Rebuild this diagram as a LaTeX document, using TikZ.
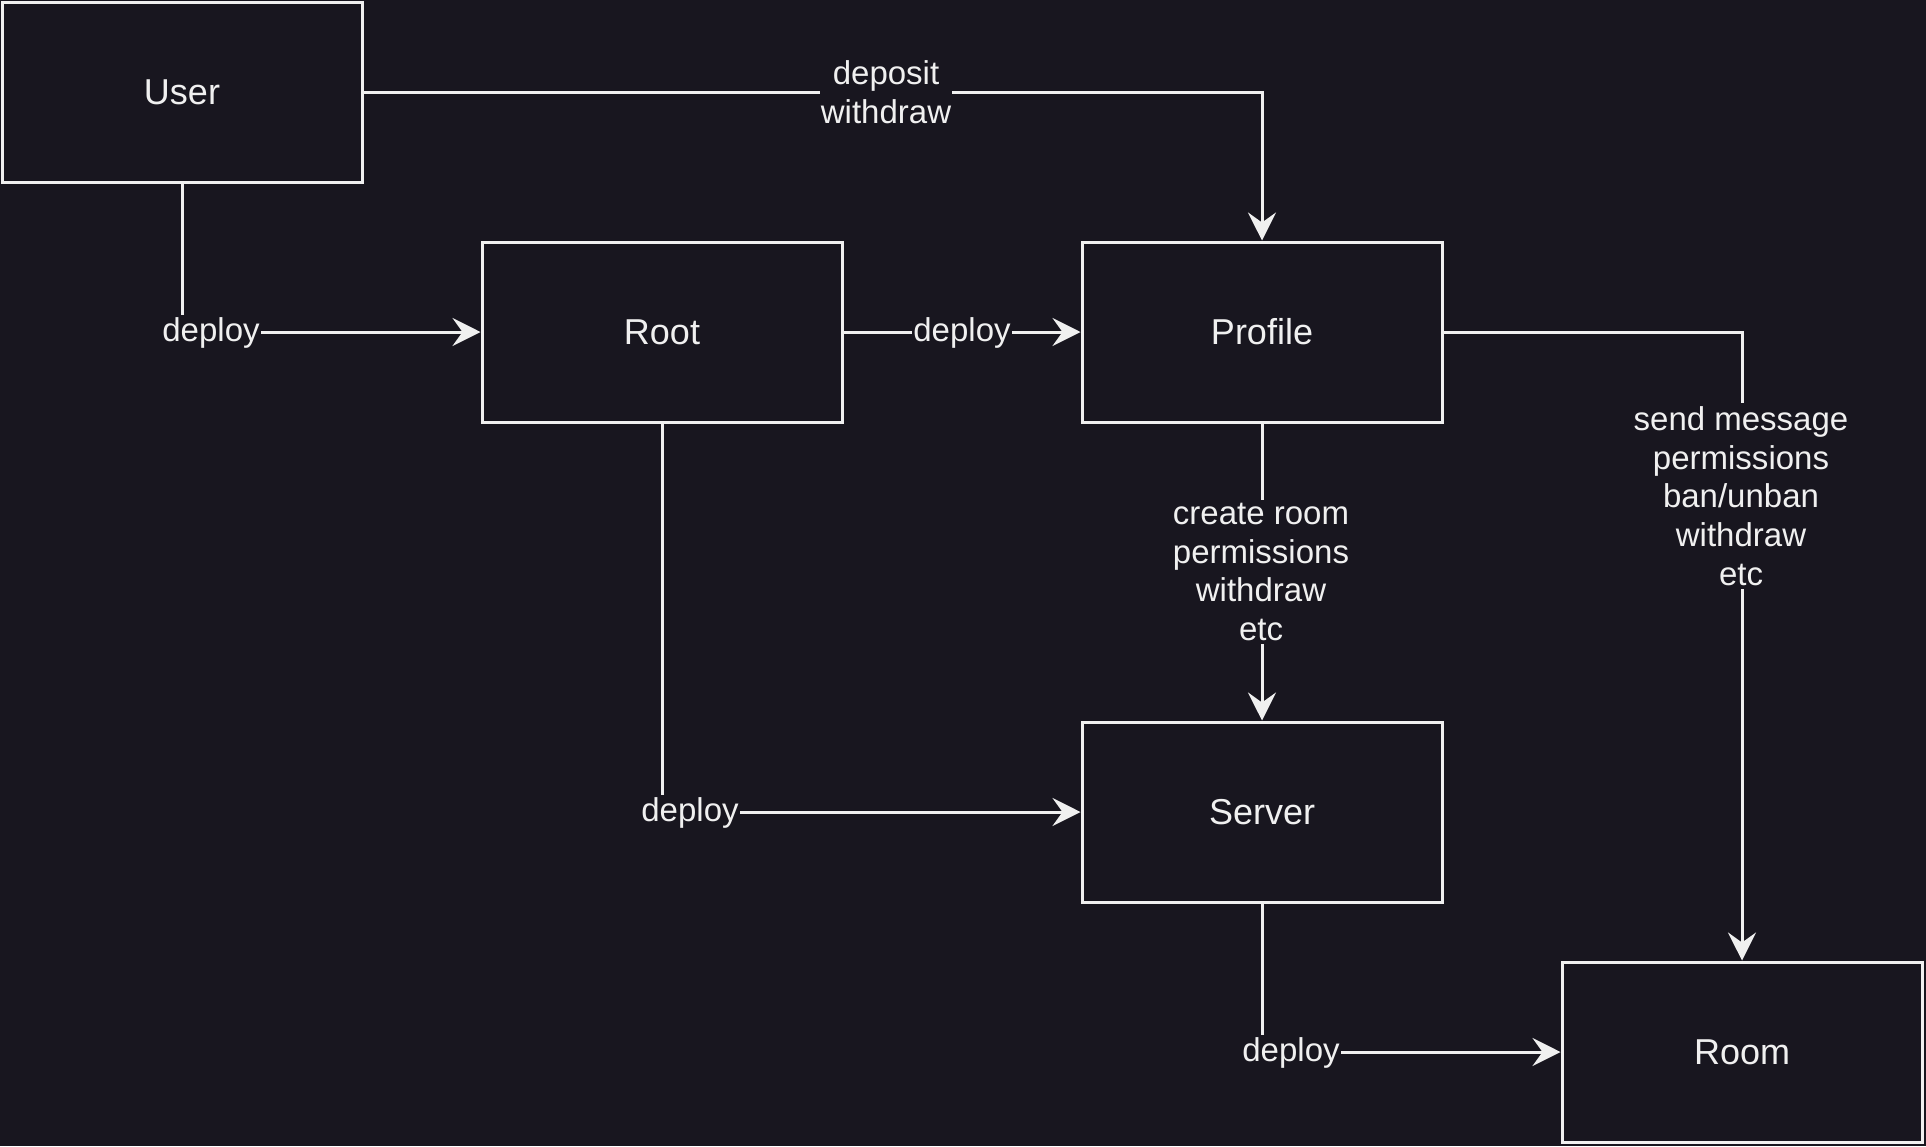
\documentclass[tikz,border=0pt]{standalone}
\usepackage{fontspec}
\setmainfont{Liberation Sans}
\usetikzlibrary{arrows.meta}
\definecolor{bg}{HTML}{18161F}
\definecolor{fg}{HTML}{F0F0F0}
\begin{document}
\begin{tikzpicture}[x=0.5pt,y=-0.5pt,
  box/.style={draw=fg, line width=1.5pt, fill=bg, text=fg, minimum width=180pt, minimum height=90pt, inner sep=0pt, font=\fontsize{18}{21.6}\selectfont},
  arr/.style={draw=fg, line width=1.5pt, -{Stealth[length=14pt, width=14pt, inset=5pt]}},
  lbl/.style={fill=bg, text=fg, inner xsep=0.6pt, inner ysep=1.5pt, align=center, font=\fontsize{16.5}{19.4}\selectfont}]
\fill[bg] (0,0) rectangle (1926,1146);
\useasboundingbox (0,0) rectangle (1926,1146);
\node[box] (user) at (182,92) {User};
\node[box] (root) at (662,332) {Root};
\node[box] (profile) at (1262,332) {Profile};
\node[box] (server) at (1262,812) {Server};
\node[box] (room) at (1742,1052) {Room};
\draw[arr] (user.south) |- (root.west);
\draw[arr] (root.east) -- (profile.west);
\draw[arr] (user.east) -| (profile.north);
\draw[arr] (profile.south) -- (server.north);
\draw[arr] (root.south) |- (server.west);
\draw[arr] (profile.east) -| (room.north);
\draw[arr] (server.south) |- (room.west);
\node[lbl] (l1) at (211,333) {deploy};
\node[lbl] (l2) at (962,333) {deploy};
\node[lbl] (l3) at (886,92) {deposit\\withdraw};
\node[lbl] (l4) at (1261,572) {create room\\permissions\\withdraw\\etc};
\node[lbl] (l5) at (690,813) {deploy};
\node[lbl] (l6) at (1741,496) {send message\\permissions\\ban/unban\\withdraw\\etc};
\node[lbl] (l7) at (1291,1053) {deploy};
\end{tikzpicture}
\end{document}
